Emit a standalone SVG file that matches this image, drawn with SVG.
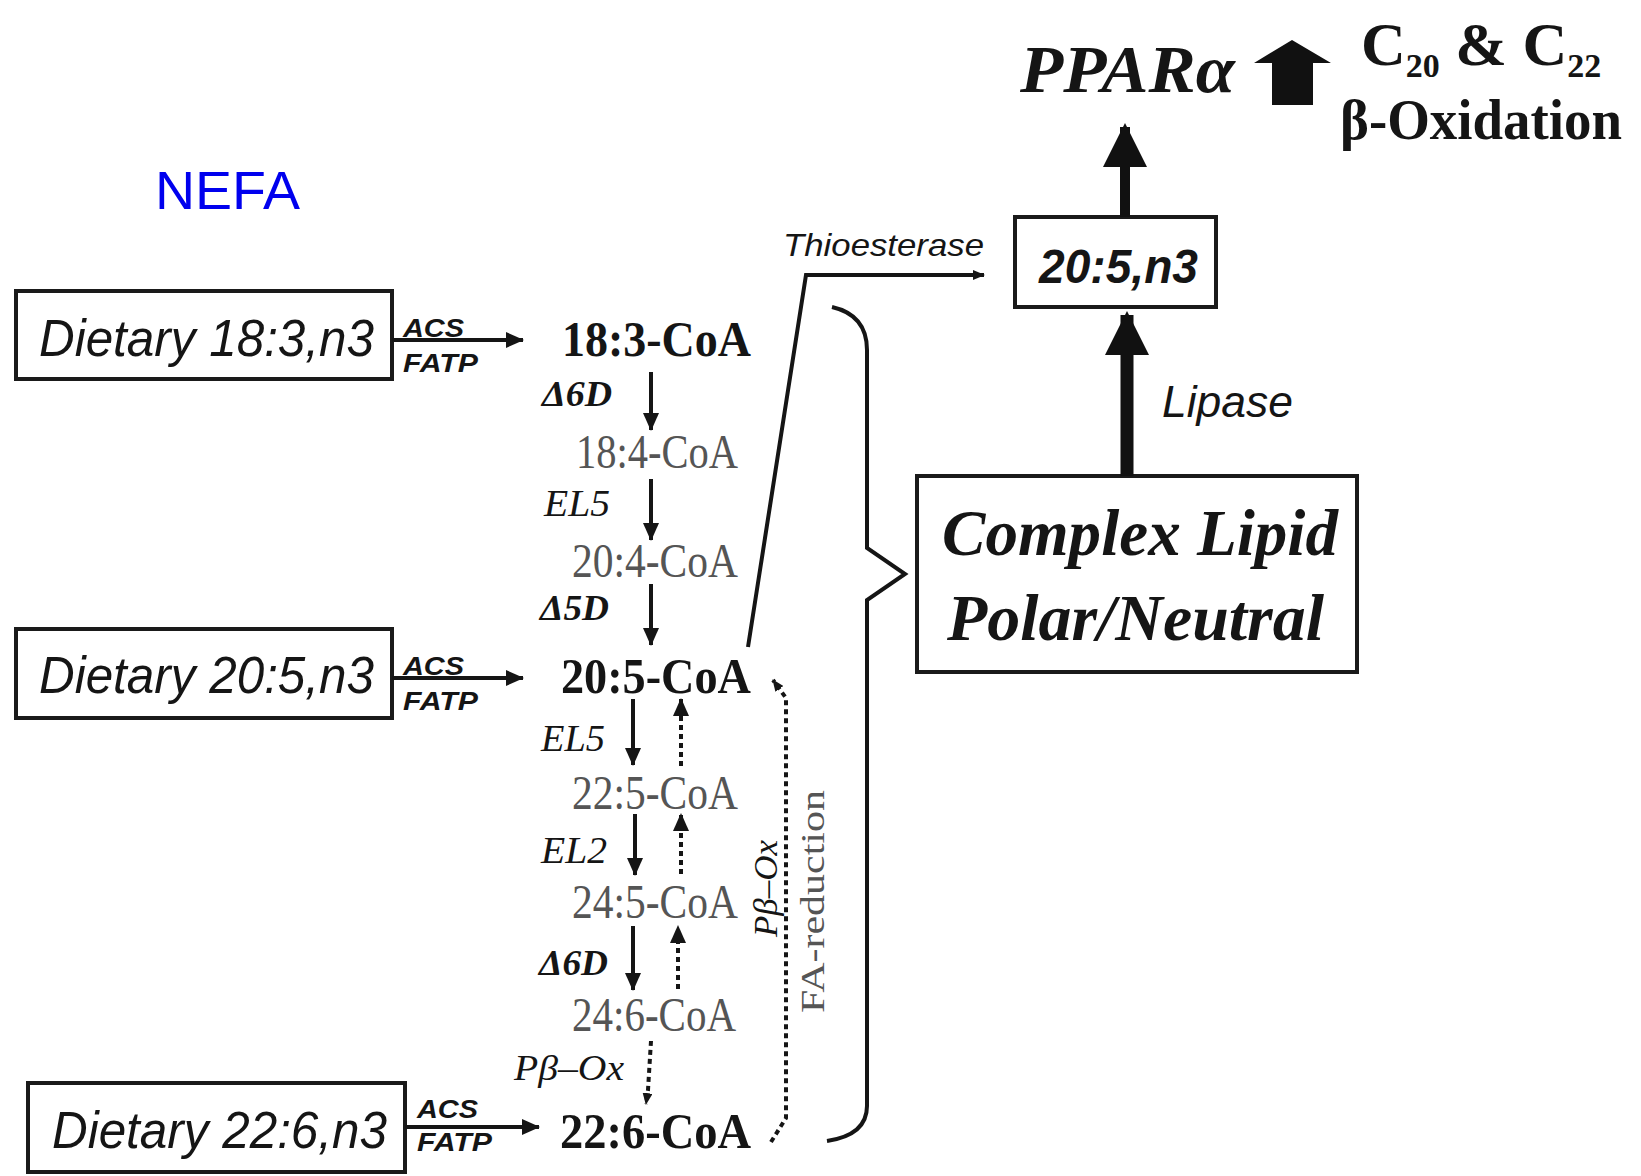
<svg xmlns="http://www.w3.org/2000/svg" width="1641" height="1176" viewBox="0 0 1641 1176">
<style>
.box{fill:#fff;stroke:#1a1a1a;stroke-width:4}
.sans{font-family:"Liberation Sans",Arial,sans-serif;font-style:italic;fill:#151515}
.serif{font-family:"Liberation Serif","Times New Roman",serif;fill:#151515}
.grey{fill:#555}
.ln{stroke:#151515;stroke-width:4;fill:none}
.dot{stroke:#151515;stroke-width:4;fill:none;stroke-dasharray:5 4}
</style>
<defs>
<marker id="ah" markerUnits="userSpaceOnUse" markerWidth="18" markerHeight="16" refX="17" refY="8" orient="auto"><path d="M0,0 L18,8 L0,16 z" fill="#151515"/></marker>
<marker id="ahs" markerUnits="userSpaceOnUse" markerWidth="12" markerHeight="10" refX="11" refY="5" orient="auto"><path d="M0,0 L12,5 L0,10 z" fill="#151515"/></marker>
<marker id="big" markerUnits="userSpaceOnUse" markerWidth="44" markerHeight="44" refX="40" refY="22" orient="auto"><path d="M0,0 L44,22 L0,44 z" fill="#111"/></marker>
</defs>

<text x="155" y="209" font-family="Liberation Sans,Arial,sans-serif" font-size="54" fill="#0000ee" textLength="145" lengthAdjust="spacingAndGlyphs">NEFA</text>

<g id="diet183">
<rect class="box" x="16" y="291" width="376" height="88"/>
<text class="sans" x="39" y="356" font-size="52" textLength="335" lengthAdjust="spacingAndGlyphs">Dietary 18:3,n3</text>
</g>
<g id="diet205">
<rect class="box" x="16" y="629" width="376" height="89"/>
<text class="sans" x="39" y="693" font-size="52" textLength="335" lengthAdjust="spacingAndGlyphs">Dietary 20:5,n3</text>
</g>
<g id="diet226">
<rect class="box" x="28" y="1083" width="377" height="89"/>
<text class="sans" x="52" y="1148" font-size="52" textLength="335" lengthAdjust="spacingAndGlyphs">Dietary 22:6,n3</text>
</g>

<g id="c183"><text class="serif" font-weight="bold" x="562" y="356" font-size="50" textLength="189" lengthAdjust="spacingAndGlyphs">18:3-CoA</text></g>
<g id="c184"><text class="serif grey" x="576" y="468" font-size="48" textLength="162" lengthAdjust="spacingAndGlyphs">18:4-CoA</text></g>
<g id="c204"><text class="serif grey" x="572" y="577" font-size="48" textLength="166" lengthAdjust="spacingAndGlyphs">20:4-CoA</text></g>
<g id="c205"><text class="serif" font-weight="bold" x="561" y="693" font-size="50" textLength="190" lengthAdjust="spacingAndGlyphs">20:5-CoA</text></g>
<g id="c225"><text class="serif grey" x="572" y="809" font-size="48" textLength="166" lengthAdjust="spacingAndGlyphs">22:5-CoA</text></g>
<g id="c245"><text class="serif grey" x="572" y="918" font-size="48" textLength="166" lengthAdjust="spacingAndGlyphs">24:5-CoA</text></g>
<g id="c246"><text class="serif grey" x="572" y="1031" font-size="48" textLength="164" lengthAdjust="spacingAndGlyphs">24:6-CoA</text></g>
<g id="c226"><text class="serif" font-weight="bold" x="560" y="1148" font-size="50" textLength="191" lengthAdjust="spacingAndGlyphs">22:6-CoA</text></g>

<g id="epa">
<rect class="box" x="1015" y="217" width="201" height="90"/>
<text class="sans" font-weight="bold" x="1039" y="283" font-size="48" textLength="159" lengthAdjust="spacingAndGlyphs">20:5,n3</text>
</g>
<g id="complex">
<rect class="box" x="917" y="476" width="440" height="196"/>
<text class="serif" font-style="italic" font-weight="bold" x="942" y="555" font-size="66" textLength="396" lengthAdjust="spacingAndGlyphs">Complex Lipid</text>
<text class="serif" font-style="italic" font-weight="bold" x="947" y="640" font-size="66" textLength="377" lengthAdjust="spacingAndGlyphs">Polar/Neutral</text>
</g>
<g id="ppar">
<text class="serif" font-style="italic" font-weight="bold" x="1020" y="92" font-size="68" textLength="215" lengthAdjust="spacingAndGlyphs">PPARα</text>
<polygon points="1254,63 1292,40 1331,63 1313,63 1313,105 1272,105 1272,63" fill="#111"/>
<text class="serif" font-weight="bold" x="1361" y="65" font-size="62">C<tspan font-size="34" dy="12">20</tspan><tspan dy="-12"> &amp; C</tspan><tspan font-size="34" dy="12">22</tspan></text>
<text class="serif" font-weight="bold" x="1340" y="139" font-size="57" textLength="282" lengthAdjust="spacingAndGlyphs">β-Oxidation</text>
</g>

<g id="connectors">
<line class="ln" x1="392" y1="340" x2="523" y2="340" marker-end="url(#ah)"/>
<line class="ln" x1="392" y1="678" x2="523" y2="678" marker-end="url(#ah)"/>
<line class="ln" x1="405" y1="1127" x2="539" y2="1127" marker-end="url(#ah)"/>
<line class="ln" stroke-width="5" x1="651" y1="372" x2="651" y2="430" marker-end="url(#ah)"/>
<line class="ln" stroke-width="5" x1="651" y1="479" x2="651" y2="540" marker-end="url(#ah)"/>
<line class="ln" stroke-width="5" x1="651" y1="584" x2="651" y2="645" marker-end="url(#ah)"/>
<line class="ln" stroke-width="5" x1="633" y1="699" x2="633" y2="765" marker-end="url(#ah)"/>
<line class="ln" stroke-width="5" x1="635" y1="814" x2="635" y2="875" marker-end="url(#ah)"/>
<line class="ln" stroke-width="5" x1="633" y1="926" x2="633" y2="990" marker-end="url(#ah)"/>
<line class="dot" x1="681" y1="766" x2="681" y2="699" marker-end="url(#ah)"/>
<line class="dot" x1="681" y1="874" x2="681" y2="814" marker-end="url(#ah)"/>
<line class="dot" x1="678" y1="989" x2="678" y2="926" marker-end="url(#ah)"/>
<polyline class="dot" points="651,1041 648,1090 646,1104" marker-end="url(#ahs)"/>
<polyline class="dot" stroke-width="3" points="771,1142 786,1118 786,698 773,680" marker-end="url(#ahs)"/>
<polyline class="ln" stroke-width="3.5" points="748,647 806,275 984,275" marker-end="url(#ahs)"/>
<path class="ln" stroke-width="3.5" d="M832,307 Q867,315 867,350 L867,548 L905,574 L867,600 L867,1106 Q867,1135 827,1141"/>
<line stroke="#111" stroke-width="13" x1="1127" y1="476" x2="1127" y2="315" marker-end="url(#big)"/>
<line stroke="#111" stroke-width="10" x1="1125" y1="217" x2="1125" y2="127" marker-end="url(#big)"/>
</g>

<g id="labels">
<text class="sans" font-weight="bold" x="403" y="337" font-size="26" textLength="61" lengthAdjust="spacingAndGlyphs">ACS</text>
<text class="sans" font-weight="bold" x="403" y="372" font-size="26" textLength="75" lengthAdjust="spacingAndGlyphs">FATP</text>
<text class="sans" font-weight="bold" x="403" y="675" font-size="26" textLength="61" lengthAdjust="spacingAndGlyphs">ACS</text>
<text class="sans" font-weight="bold" x="403" y="710" font-size="26" textLength="75" lengthAdjust="spacingAndGlyphs">FATP</text>
<text class="sans" font-weight="bold" x="417" y="1118" font-size="26" textLength="61" lengthAdjust="spacingAndGlyphs">ACS</text>
<text class="sans" font-weight="bold" x="417" y="1151" font-size="26" textLength="75" lengthAdjust="spacingAndGlyphs">FATP</text>
<text class="serif" font-style="italic" font-weight="bold" x="542" y="406" font-size="36" textLength="70" lengthAdjust="spacingAndGlyphs">Δ6D</text>
<text class="serif" font-style="italic" x="544" y="516" font-size="38" textLength="66" lengthAdjust="spacingAndGlyphs">EL5</text>
<text class="serif" font-style="italic" font-weight="bold" x="540" y="620" font-size="36" textLength="69" lengthAdjust="spacingAndGlyphs">Δ5D</text>
<text class="serif" font-style="italic" x="541" y="751" font-size="38" textLength="64" lengthAdjust="spacingAndGlyphs">EL5</text>
<text class="serif" font-style="italic" x="541" y="863" font-size="38" textLength="66" lengthAdjust="spacingAndGlyphs">EL2</text>
<text class="serif" font-style="italic" font-weight="bold" x="539" y="975" font-size="36" textLength="69" lengthAdjust="spacingAndGlyphs">Δ6D</text>
<text class="serif" font-style="italic" x="514" y="1080" font-size="36" textLength="110" lengthAdjust="spacingAndGlyphs">Pβ–Ox</text>
<text class="serif" font-style="italic" transform="translate(777,937) rotate(-90)" font-size="34" textLength="97" lengthAdjust="spacingAndGlyphs">Pβ–Ox</text>
<text class="serif grey" transform="translate(824,1013) rotate(-90)" font-size="34" textLength="223" lengthAdjust="spacingAndGlyphs">FA-reduction</text>
<text class="sans" x="783" y="256" font-size="32" textLength="201" lengthAdjust="spacingAndGlyphs">Thioesterase</text>
<text class="sans" x="1162" y="417" font-size="44" textLength="131" lengthAdjust="spacingAndGlyphs">Lipase</text>
</g>
</svg>
